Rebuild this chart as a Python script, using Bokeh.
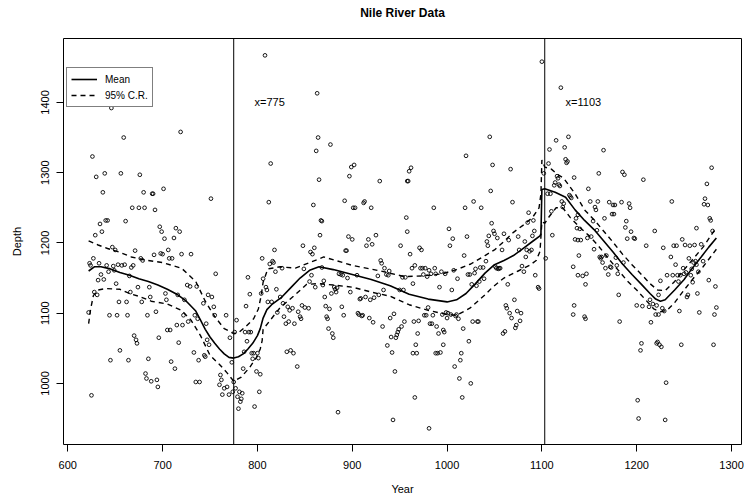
from bokeh.plotting import figure
from bokeh.models import Range1d, Span, Label, Legend, LegendItem, FixedTicker, Title
from bokeh.embed import file_html
from bokeh.resources import INLINE

years_a = [646, 659, 626, 630, 639, 656, 676, 680, 689, 637, 668, 675, 681, 634, 640, 642, 661, 629, 636,
           647, 650, 671, 627, 623, 633, 677, 679, 667, 641, 648, 653, 657, 660, 669, 624, 665, 649, 635,
           643, 632, 638, 651, 674, 686, 628, 666, 631, 654, 662, 678, 622, 644, 652, 663, 684, 670, 672,
           673, 655, 645, 664, 685, 683, 688, 625]
depth_a = [1392, 1350, 1323, 1294, 1299, 1299, 1297, 1272, 1270, 1272, 1250, 1250, 1250, 1227, 1232, 1232, 1231, 1211, 1216,
           1194, 1190, 1189, 1178, 1171, 1171, 1178, 1175, 1165, 1168, 1167, 1169, 1168, 1169, 1168, 1168, 1153, 1161, 1155,
           1159, 1147, 1148, 1142, 1137, 1137, 1130, 1130, 1126, 1116, 1116, 1116, 1101, 1097, 1097, 1097, 1097, 1068, 1062,
           1057, 1047, 1033, 1033, 1035, 1007, 1003, 983]

years_b = [719, 701, 690, 692, 751, 697, 699, 714, 718, 702, 712, 706, 698, 700, 707, 710, 720, 730, 691,
           726, 729, 736, 756, 703, 716, 723, 704, 687, 748, 752, 743, 754, 693, 722, 734, 737, 755, 767,
           727, 746, 715, 721, 705, 708, 696, 771, 717, 749, 747, 744, 745, 733, 738, 709, 713, 773, 682,
           694, 695, 735, 739, 761, 762, 760, 765, 768, 763, 770, 774, 775]
depth_b = [1358, 1277, 1270, 1247, 1263, 1223, 1216, 1221, 1216, 1206, 1207, 1190, 1185, 1184, 1178, 1178, 1184, 1184, 1183,
           1140, 1138, 1138, 1156, 1128, 1126, 1119, 1119, 1123, 1126, 1123, 1114, 1109, 1102, 1097, 1097, 1092, 1097, 1097,
           1088, 1085, 1083, 1083, 1076, 1076, 1065, 1065, 1058, 1055, 1062, 1040, 1038, 1044, 1033, 1031, 1021, 1030, 1014,
           1005, 995, 1002, 1002, 1012, 1005, 998, 993, 995, 984, 984, 988, 1002]

years_c = [808, 863, 864, 862, 814, 865, 812, 859, 868, 866, 818, 848, 860, 856, 858, 805, 816, 817, 813,
           826, 790, 819, 849, 806, 809, 810, 820, 792, 804, 857, 855, 861, 824, 827, 832, 837, 834, 843,
           847, 850, 854, 845, 846, 788, 811, 815, 821, 828, 830, 833, 839, 778, 787, 791, 793, 776, 789,
           786, 831, 835, 838, 794, 796, 800, 795, 801, 842, 785, 799, 803, 777, 781, 802, 779, 782, 784,
           783, 797, 780]
depth_c = [1467, 1413, 1350, 1331, 1313, 1290, 1258, 1254, 1231, 1211, 1190, 1196, 1193, 1187, 1184, 1178, 1174, 1172, 1170,
           1164, 1151, 1159, 1163, 1149, 1137, 1133, 1134, 1127, 1128, 1154, 1145, 1137, 1123, 1114, 1109, 1107, 1104, 1102,
           1111, 1108, 1107, 1095, 1092, 1110, 1116, 1116, 1101, 1095, 1085, 1088, 1085, 1090, 1073, 1073, 1073, 1073, 1060,
           1045, 1045, 1047, 1043, 1043, 1043, 1043, 1035, 1036, 1024, 1021, 1017, 1013, 993, 988, 988, 981, 974, 986,
           978, 967, 964]

years_d = [877, 899, 902, 897, 929, 958, 892, 913, 912, 901,
           903, 920, 957, 867, 896, 900, 917, 925, 921, 915,
           893, 894, 951, 868, 930, 931, 934, 939, 936, 938,
           927, 953, 956, 886, 888, 890, 895, 905, 870, 869,
           881, 884, 883, 882, 871, 878, 898, 909, 908, 914,
           919, 923, 928, 933, 950, 954, 872, 876, 889, 873,
           874, 891, 906, 907, 910, 918, 922, 911, 944, 940,
           955, 932, 875, 879, 880, 952, 949, 948, 947, 946,
           941, 937, 942, 945, 885, 943]
depth_d = [1340, 1308, 1311, 1295, 1288, 1288, 1260, 1259, 1257, 1250,
           1250, 1250, 1236, 1232, 1209, 1205, 1205, 1211, 1198, 1196,
           1189, 1189, 1196, 1165, 1175, 1171, 1164, 1160, 1155, 1154,
           1153, 1151, 1151, 1156, 1155, 1154, 1150, 1154, 1146, 1140,
           1137, 1136, 1130, 1134, 1123, 1128, 1130, 1121, 1120, 1123,
           1119, 1122, 1126, 1133, 1133, 1133, 1110, 1106, 1109, 1095,
           1092, 1097, 1100, 1098, 1096, 1093, 1087, 1097, 1099, 1093,
           1088, 1081, 1078, 1071, 1065, 1081, 1077, 1073, 1069, 1065,
           1066, 1054, 1044, 1017, 959, 948]

years_e = [1045, 1020, 1048, 962, 960, 959, 1046, 1028, 986, 1019,
           1036, 1047, 958, 1002, 1006, 1021, 1044, 1042, 1043, 971,
           973, 961, 1003, 1018, 966, 1041, 963, 972, 974, 977,
           981, 987, 975, 979, 983, 988, 994, 998, 1007, 1011,
           1022, 1024, 1030, 1029, 1035, 1038, 964, 992, 1005, 1026,
           1031, 1034, 1039, 980, 976, 978, 985, 995, 999, 1001,
           1004, 1010, 970, 982, 984, 1000, 1009, 1012, 965, 1027,
           1032, 1033, 989, 1017, 969, 991, 997, 996, 1023, 967,
           968, 964, 988, 990, 993, 1015, 996, 1014, 1008, 1013,
           1025, 966, 1016, 981]
depth_e = [1351, 1324, 1311, 1307, 1302, 1288, 1274, 1259, 1250, 1250,
           1250, 1228, 1216, 1220, 1206, 1209, 1210, 1202, 1196, 1193,
           1190, 1184, 1196, 1182, 1168, 1174, 1164, 1164, 1164, 1164,
           1161, 1164, 1155, 1152, 1156, 1156, 1159, 1156, 1161, 1149,
           1155, 1155, 1163, 1157, 1165, 1165, 1142, 1137, 1133, 1141,
           1139, 1145, 1149, 1108, 1097, 1097, 1097, 1098, 1101, 1100,
           1098, 1098, 1089, 1085, 1085, 1093, 1096, 1092, 1088, 1088,
           1088, 1088, 1081, 1078, 1071, 1071, 1073, 1076, 1060, 1055,
           1043, 1043, 1043, 1043, 1044, 1043, 1055, 1033, 1024, 1007,
           1000, 980, 980, 936]

years_f = [1100, 1120, 1128, 1115, 1124, 1108, 1067, 1107, 1125, 1127,
           1126, 1102, 1116, 1117, 1114, 1118, 1119, 1134, 1113, 1129,
           1130, 1131, 1106, 1109, 1121, 1123, 1069, 1086, 1110, 1122,
           1091, 1085, 1138, 1049, 1050, 1060, 1092, 1090, 1111, 1075,
           1053, 1065, 1082, 1089, 1087, 1084, 1076, 1058, 1083, 1051,
           1052, 1055, 1056, 1054, 1079, 1081, 1104, 1093, 1096, 1097,
           1064, 1071, 1062, 1063, 1078, 1074, 1066, 1068, 1077, 1073,
           1072, 1059, 1061, 1133]
depth_f = [1458, 1421, 1351, 1346, 1336, 1333, 1305, 1313, 1319, 1316,
           1314, 1299, 1295, 1292, 1286, 1283, 1281, 1293, 1282, 1268,
           1266, 1264, 1270, 1270, 1259, 1256, 1258, 1243, 1245, 1251,
           1232, 1229, 1240, 1217, 1213, 1213, 1217, 1210, 1211, 1209,
           1207, 1204, 1202, 1190, 1188, 1190, 1190, 1190, 1180, 1166,
           1164, 1164, 1164, 1163, 1167, 1159, 1178, 1154, 1137, 1135,
           1141, 1119, 1111, 1107, 1100, 1103, 1100, 1093, 1089, 1083,
           1079, 1071, 1074, 1098]

years_g = [1165, 1160, 1185, 1187, 1207, 1149, 1151, 1159, 1156, 1157,
           1171, 1175, 1177, 1184, 1192, 1193, 1174, 1176, 1166, 1136,
           1189, 1154, 1188, 1137, 1140, 1219, 1158, 1194, 1197, 1198,
           1190, 1135, 1138, 1141, 1148, 1152, 1155, 1210, 1139, 1161,
           1163, 1162, 1168, 1178, 1164, 1173, 1172, 1179, 1186, 1133,
           1167, 1138, 1143, 1147, 1180, 1170, 1146, 1181, 1214, 1217,
           1206, 1213, 1221, 1200, 1220, 1223, 1215, 1145, 1146, 1182,
           1134, 1205, 1204, 1221, 1222, 1224, 1226, 1201, 1202]
depth_g = [1332, 1299, 1301, 1297, 1290, 1277, 1259, 1259, 1251, 1247,
           1258, 1254, 1254, 1258, 1256, 1250, 1241, 1241, 1235, 1235,
           1231, 1231, 1222, 1221, 1220, 1217, 1218, 1216, 1207, 1206,
           1206, 1205, 1204, 1204, 1207, 1209, 1191, 1196, 1182, 1180,
           1180, 1178, 1182, 1179, 1172, 1165, 1166, 1168, 1172, 1166,
           1164, 1154, 1153, 1156, 1156, 1155, 1141, 1126, 1119, 1113,
           1110, 1109, 1111, 1111, 1098, 1098, 1087, 1095, 1092, 1088,
           1111, 1057, 1047, 1057, 1059, 1055, 1052, 976, 950]

years_h = [1279, 1274, 1272, 1271, 1275, 1237, 1277, 1278, 1263, 1280,
           1248, 1239, 1242, 1251, 1256, 1261, 1228, 1268, 1236, 1255,
           1262, 1260, 1263, 1270, 1241, 1249, 1252, 1250, 1258, 1265,
           1232, 1238, 1243, 1246, 1257, 1225, 1259, 1276, 1283, 1244,
           1264, 1254, 1253, 1223, 1229, 1227, 1245, 1266, 1284, 1282,
           1247, 1281, 1231, 1230]
depth_h = [1307, 1284, 1263, 1255, 1254, 1259, 1235, 1232, 1221, 1217,
           1205, 1196, 1196, 1197, 1196, 1197, 1193, 1198, 1180, 1178,
           1174, 1172, 1169, 1174, 1169, 1164, 1158, 1156, 1163, 1159,
           1154, 1154, 1154, 1154, 1154, 1146, 1144, 1147, 1138, 1145,
           1128, 1126, 1123, 1126, 1103, 1107, 1103, 1101, 1108, 1098,
           1055, 1055, 1001, 948]

years = years_a + years_b + years_c + years_d + years_e + years_f + years_g + years_h
depth = depth_a + depth_b + depth_c + depth_d + depth_e + depth_f + depth_g + depth_h

# ---- posterior mean and 95% credible region (year, depth nodes) ----
mean_years = [622, 628, 635, 645, 655, 665, 675, 685, 695, 705, 715, 725, 735, 740, 745, 750, 755, 760,
              765, 770, 775, 780, 785, 790, 795, 800, 803, 806, 810, 815, 825, 835, 845, 855, 865, 880,
              900, 920, 940, 960, 980, 1000, 1010, 1020, 1030, 1040, 1050, 1060, 1070, 1080, 1090, 1098,
              1099, 1100, 1103, 1114, 1125, 1135, 1145, 1155, 1165, 1175, 1185, 1195, 1205, 1214, 1220,
              1225, 1230, 1240, 1250, 1258, 1268, 1276, 1284]
mean_vals = [1160, 1166, 1166, 1163, 1158, 1154, 1149, 1145, 1140, 1134, 1127, 1117, 1103, 1090, 1077,
             1066, 1057, 1049, 1042, 1037, 1036, 1038, 1042, 1049, 1057, 1068, 1078, 1093, 1105, 1112,
             1122, 1136, 1150, 1161, 1166, 1162, 1155, 1148, 1139, 1127, 1120, 1116, 1119, 1128, 1142,
             1157, 1169, 1175, 1182, 1192, 1202, 1210, 1213, 1276, 1277, 1272, 1265, 1247, 1232, 1219,
             1203, 1187, 1170, 1155, 1141, 1128, 1120, 1117, 1119, 1133, 1148, 1163, 1180, 1194, 1207]

upper_years = [622, 632, 642, 654, 667, 680, 700, 720, 735, 745, 755, 765, 775, 780, 787, 796, 801, 804,
               806, 811, 824, 840, 855, 870, 900, 930, 955, 975, 995, 1010, 1025, 1040, 1050, 1060, 1070,
               1080, 1090, 1097, 1099, 1100, 1103, 1110, 1116, 1123, 1135, 1145, 1155, 1165, 1175, 1185,
               1195, 1205, 1214, 1222, 1230, 1240, 1250, 1260, 1270, 1284]
upper_vals = [1203, 1197, 1192, 1187, 1180, 1176, 1172, 1164, 1145, 1117, 1095, 1078, 1071, 1072, 1080,
              1092, 1106, 1125, 1144, 1163, 1166, 1164, 1172, 1180, 1168, 1160, 1152, 1153, 1156, 1162,
              1170, 1182, 1190, 1202, 1215, 1225, 1236, 1250, 1270, 1318, 1308, 1305, 1298, 1292, 1270,
              1247, 1233, 1217, 1201, 1184, 1169, 1155, 1142, 1133, 1132, 1145, 1162, 1178, 1194, 1222]

lower_years = [622, 624, 627, 632, 640, 655, 665, 675, 688, 705, 720, 730, 740, 750, 760, 768, 775, 783,
               792, 799, 803, 805, 806, 813, 824, 838, 852, 865, 880, 900, 920, 940, 960, 980, 1000, 1010,
               1024, 1040, 1048, 1060, 1075, 1087, 1094, 1098, 1100, 1103, 1108, 1115, 1122, 1130, 1140,
               1150, 1160, 1170, 1180, 1190, 1200, 1210, 1218, 1225, 1232, 1240, 1250, 1260, 1270, 1284]
lower_vals = [1085, 1105, 1125, 1133, 1135, 1134, 1128, 1124, 1117, 1113, 1104, 1090, 1068, 1040, 1027,
              1015, 1003, 1009, 1023, 1037, 1049, 1061, 1077, 1089, 1108, 1124, 1141, 1142, 1140, 1137,
              1130, 1124, 1112, 1104, 1098, 1097, 1107, 1126, 1137, 1150, 1160, 1168, 1175, 1188, 1230,
              1228, 1238, 1250, 1250, 1236, 1222, 1210, 1195, 1178, 1162, 1146, 1133, 1118, 1106, 1102,
              1104, 1115, 1133, 1150, 1166, 1191]

change_points = [775, 1103]
x_ticks = [600, 700, 800, 900, 1000, 1100, 1200, 1300]
y_ticks = [1000, 1100, 1200, 1300, 1400]

FONT = "Liberation Sans"

p = figure(width=744, height=501, output_backend="svg", toolbar_location=None,
           x_range=Range1d(595.5, 1310.5), y_range=Range1d(913, 1491),
           min_border_left=63, min_border_right=3, min_border_top=38, min_border_bottom=57)
p.background_fill_color = "white"
p.border_fill_color = "white"
p.grid.visible = False
p.outline_line_color = "black"
p.outline_line_width = 1
p.outline_line_alpha = 1

# a blank spacer title next to the frame pushes the real title upwards
p.add_layout(Title(text=" ", text_font=FONT, text_font_size="15px", standoff=0), "above")
p.add_layout(Title(text="Nile River Data", align="center", text_font=FONT, text_color="black",
                   text_font_size="12px", text_font_style="bold", standoff=0), "above")

for ax, ticks, lab in ((p.xaxis[0], x_ticks, "Year"), (p.yaxis[0], y_ticks, "Depth")):
    ax.ticker = FixedTicker(ticks=ticks)
    ax.bounds = (ticks[0], ticks[-1])
    ax.axis_label = lab
    ax.axis_label_text_font = FONT
    ax.axis_label_text_font_size = "11px"
    ax.axis_label_text_font_style = "normal"
    ax.axis_label_text_color = "black"
    ax.major_label_text_font = FONT
    ax.major_label_text_font_size = "11px"
    ax.major_label_text_color = "black"
    ax.major_tick_out = 7
    ax.major_tick_in = 0
    ax.minor_tick_line_color = None
    ax.axis_line_color = "black"
    ax.major_tick_line_color = "black"
p.xaxis[0].major_label_standoff = 9
p.xaxis[0].axis_label_standoff = 11
p.yaxis[0].major_label_standoff = 7
p.yaxis[0].axis_label_standoff = 16
p.yaxis[0].major_label_orientation = "vertical"

p.scatter(years, depth, marker="circle", size=3.7, fill_color=None,
          line_color="black", line_width=0.9)

r_mean = p.line(mean_years, mean_vals, line_color="black", line_width=1.6)
r_up = p.line(upper_years, upper_vals, line_color="black", line_width=1.4, line_dash="5 4")
r_lo = p.line(lower_years, lower_vals, line_color="black", line_width=1.4, line_dash="5 4")

for cp in change_points:
    p.add_layout(Span(location=cp, dimension="height", line_color="black", line_width=1))

p.add_layout(Label(x=797, y=1400, text="x=775", text_font=FONT, text_font_size="11px",
                   text_color="black", text_baseline="middle"))
p.add_layout(Label(x=1125, y=1400, text="x=1103", text_font=FONT, text_font_size="11px",
                   text_color="black", text_baseline="middle"))

legend = Legend(items=[LegendItem(label="Mean", renderers=[r_mean]),
                       LegendItem(label="95% C.R.", renderers=[r_up])],
                location=(3, 337), label_text_font=FONT, label_text_font_size="10px",
                label_text_color="black",
                glyph_width=26, glyph_height=14, label_standoff=8, padding=4, spacing=2,
                border_line_color="black", border_line_width=1, background_fill_alpha=1,
                label_height=14, label_width=10, margin=0)
p.add_layout(legend)

open("out.html", "w").write(file_html(p, INLINE))
